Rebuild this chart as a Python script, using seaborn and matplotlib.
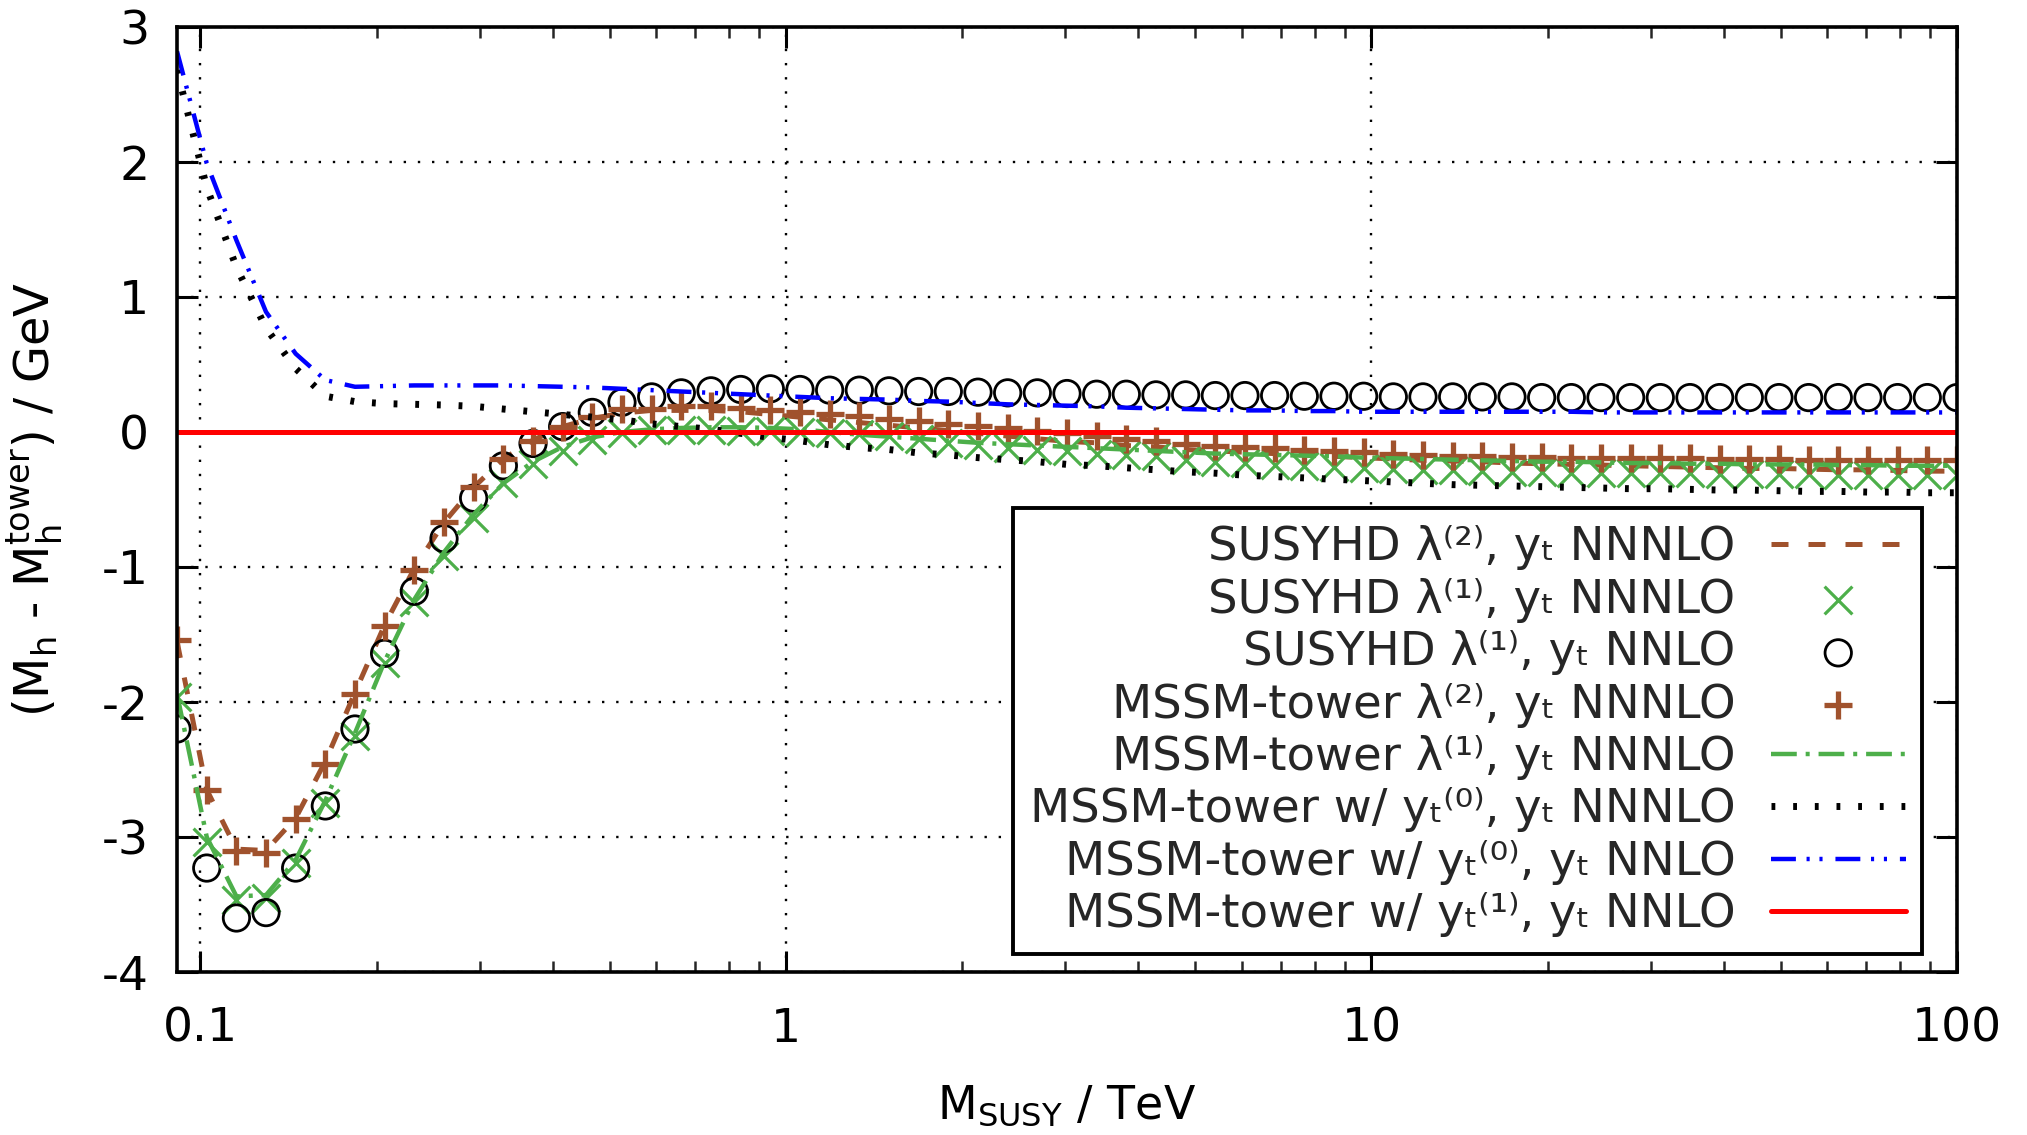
import matplotlib
matplotlib.use("Agg")
import matplotlib.pyplot as plt
import seaborn as sns
from matplotlib import font_manager
from matplotlib.ft2font import FT2Font
from matplotlib.ticker import FixedLocator, NullFormatter

# M_SUSY grid in TeV (from M_Z up to 100 TeV)
m_susy = [
    0.09119, 0.1025, 0.1152, 0.1294, 0.1454, 0.1634, 0.1836, 0.2063, 0.2319, 0.2606,
    0.2928, 0.3291, 0.3698, 0.4155, 0.4669, 0.5247, 0.5897, 0.6626, 0.7446, 0.8368,
    0.9403, 1.0567, 1.1874, 1.3343, 1.4995, 1.6850, 1.8935, 2.1278, 2.3911, 2.6870,
    3.0195, 3.3932, 3.8130, 4.2849, 4.8151, 5.4109, 6.0805, 6.8329, 7.6784, 8.6286,
    9.6963, 10.896, 12.245, 13.760, 15.462, 17.376, 19.526, 21.942, 24.657, 27.709,
    31.137, 34.990, 39.320, 44.186, 49.653, 55.798, 62.702, 70.461, 79.180, 88.978,
    100.0,
]

# SUSYHD lambda^(2), y_t NNNLO
susyhd_l2_nnnlo = [
    -1.55, -2.65, -3.09, -3.10, -2.86, -2.44, -1.93, -1.43, -1.01, -0.67,
    -0.41, -0.20, -0.06, 0.04, 0.10, 0.14, 0.16, 0.16, 0.16, 0.15,
    0.13, 0.11, 0.09, 0.07, 0.05, 0.03, 0.01, -0.01, -0.03, -0.05,
    -0.07, -0.08, -0.10, -0.11, -0.13, -0.14, -0.15, -0.16, -0.17, -0.18,
    -0.19, -0.20, -0.21, -0.215, -0.22, -0.23, -0.235, -0.24, -0.245, -0.25,
    -0.255, -0.26, -0.265, -0.27, -0.27, -0.275, -0.28, -0.28, -0.285, -0.29,
    -0.29,
]

# SUSYHD lambda^(1), y_t NNNLO
susyhd_l1_nnnlo = [
    -1.96, -3.04, -3.47, -3.45, -3.19, -2.75, -2.25, -1.71, -1.26, -0.92,
    -0.64, -0.38, -0.24, -0.14, -0.06, -0.01, 0.015, 0.015, 0.015, 0.01,
    0.005, 0.0, -0.01, -0.015, -0.03, -0.055, -0.08, -0.095, -0.115, -0.13,
    -0.14, -0.16, -0.17, -0.18, -0.205, -0.22, -0.23, -0.245, -0.255, -0.26,
    -0.27, -0.275, -0.28, -0.285, -0.29, -0.295, -0.295, -0.30, -0.30, -0.30,
    -0.305, -0.305, -0.31, -0.31, -0.31, -0.31, -0.315, -0.315, -0.32, -0.32,
    -0.32,
]

# SUSYHD lambda^(1), y_t NNLO
susyhd_l1_nnlo = [
    -2.20, -3.23, -3.60, -3.56, -3.23, -2.77, -2.20, -1.64, -1.18, -0.79,
    -0.49, -0.25, -0.085, 0.04, 0.145, 0.22, 0.26, 0.29, 0.305, 0.315,
    0.32, 0.315, 0.31, 0.31, 0.305, 0.30, 0.30, 0.295, 0.29, 0.29,
    0.285, 0.28, 0.28, 0.275, 0.275, 0.27, 0.27, 0.27, 0.265, 0.265,
    0.265, 0.26, 0.26, 0.26, 0.26, 0.26, 0.255, 0.255, 0.255, 0.255,
    0.255, 0.255, 0.255, 0.255, 0.255, 0.255, 0.255, 0.255, 0.255, 0.255,
    0.255,
]

# MSSM-tower lambda^(2), y_t NNNLO
tower_l2_nnnlo = [
    -1.54, -2.65, -3.10, -3.12, -2.87, -2.46, -1.94, -1.44, -1.02, -0.67,
    -0.41, -0.20, -0.07, 0.04, 0.11, 0.17, 0.17, 0.19, 0.19, 0.175,
    0.16, 0.15, 0.13, 0.115, 0.10, 0.08, 0.06, 0.045, 0.03, 0.01,
    -0.01, -0.03, -0.05, -0.07, -0.09, -0.10, -0.11, -0.12, -0.13, -0.14,
    -0.15, -0.16, -0.17, -0.175, -0.18, -0.185, -0.185, -0.19, -0.19, -0.19,
    -0.195, -0.195, -0.20, -0.20, -0.20, -0.205, -0.205, -0.21, -0.21, -0.21,
    -0.21,
]

# MSSM-tower lambda^(1), y_t NNNLO
tower_l1_nnnlo = [
    -1.94, -3.00, -3.44, -3.43, -3.17, -2.73, -2.23, -1.70, -1.24, -0.89,
    -0.61, -0.38, -0.22, -0.11, -0.04, 0.0, 0.02, 0.03, 0.035, 0.035,
    0.03, 0.02, 0.0, -0.02, -0.035, -0.05, -0.065, -0.08, -0.09, -0.10,
    -0.11, -0.12, -0.13, -0.14, -0.15, -0.16, -0.165, -0.17, -0.175, -0.18,
    -0.19, -0.195, -0.20, -0.205, -0.21, -0.215, -0.22, -0.22, -0.225, -0.23,
    -0.23, -0.235, -0.235, -0.24, -0.24, -0.24, -0.245, -0.245, -0.25, -0.25,
    -0.25,
]

# MSSM-tower w/ y_t^(0), y_t NNNLO
tower_yt0_nnnlo = [
    2.68, 1.81, 1.22, 0.77, 0.47, 0.265, 0.225, 0.21, 0.205, 0.20,
    0.19, 0.17, 0.15, 0.13, 0.11, 0.09, 0.06, 0.04, 0.02, -0.01,
    -0.04, -0.065, -0.095, -0.115, -0.13, -0.155, -0.17, -0.19, -0.205, -0.22,
    -0.24, -0.25, -0.265, -0.28, -0.295, -0.305, -0.32, -0.33, -0.34, -0.35,
    -0.36, -0.37, -0.38, -0.39, -0.395, -0.40, -0.405, -0.41, -0.415, -0.42,
    -0.42, -0.425, -0.43, -0.43, -0.435, -0.44, -0.44, -0.445, -0.445, -0.45,
    -0.45,
]

# MSSM-tower w/ y_t^(0), y_t NNLO
tower_yt0_nnlo = [
    2.82, 1.99, 1.42, 0.89, 0.58, 0.385, 0.335, 0.34, 0.345, 0.345,
    0.345, 0.345, 0.34, 0.335, 0.33, 0.32, 0.31, 0.30, 0.29, 0.28,
    0.27, 0.26, 0.25, 0.245, 0.24, 0.23, 0.225, 0.215, 0.205, 0.20,
    0.195, 0.19, 0.18, 0.175, 0.17, 0.165, 0.16, 0.16, 0.155, 0.155,
    0.15, 0.15, 0.15, 0.15, 0.15, 0.15, 0.15, 0.15, 0.145, 0.145,
    0.145, 0.145, 0.145, 0.145, 0.145, 0.145, 0.145, 0.145, 0.145, 0.145,
    0.145,
]

# MSSM-tower w/ y_t^(1), y_t NNLO (reference curve)
tower_yt1_nnlo = [
    0.0, 0.0, 0.0, 0.0, 0.0, 0.0, 0.0, 0.0, 0.0, 0.0,
    0.0, 0.0, 0.0, 0.0, 0.0, 0.0, 0.0, 0.0, 0.0, 0.0,
    0.0, 0.0, 0.0, 0.0, 0.0, 0.0, 0.0, 0.0, 0.0, 0.0,
    0.0, 0.0, 0.0, 0.0, 0.0, 0.0, 0.0, 0.0, 0.0, 0.0,
    0.0, 0.0, 0.0, 0.0, 0.0, 0.0, 0.0, 0.0, 0.0, 0.0,
    0.0, 0.0, 0.0, 0.0, 0.0, 0.0, 0.0, 0.0, 0.0, 0.0,
    0.0,
]

x_ticks = [0.1, 1, 10, 100]
x_tick_labels = ["0.1", "1", "10", "100"]
y_ticks = [-4, -3, -2, -1, 0, 1, 2, 3]
y_tick_labels = ["-4", "-3", "-2", "-1", "0", "1", "2", "3"]

# legend labels: plain text with Unicode super/subscripts when the font has them
_cmap = FT2Font(font_manager.findfont("DejaVu Sans")).get_charmap()
USE_UNICODE = all(ord(c) in _cmap for c in "ₜ⁽⁾⁰¹²λ")
if USE_UNICODE:
    labels = [
        "SUSYHD λ⁽²⁾, yₜ NNNLO",
        "SUSYHD λ⁽¹⁾, yₜ NNNLO",
        "SUSYHD λ⁽¹⁾, yₜ NNLO",
        "MSSM-tower λ⁽²⁾, yₜ NNNLO",
        "MSSM-tower λ⁽¹⁾, yₜ NNNLO",
        "MSSM-tower w/ yₜ⁽⁰⁾, yₜ NNNLO",
        "MSSM-tower w/ yₜ⁽⁰⁾, yₜ NNLO",
        "MSSM-tower w/ yₜ⁽¹⁾, yₜ NNLO",
    ]
    LEG_SPACING = 0.16
else:
    labels = [
        r"SUSYHD λ$^\mathregular{(2)}$, y$_\mathregular{t}$ NNNLO",
        r"SUSYHD λ$^\mathregular{(1)}$, y$_\mathregular{t}$ NNNLO",
        r"SUSYHD λ$^\mathregular{(1)}$, y$_\mathregular{t}$ NNLO",
        r"MSSM-tower λ$^\mathregular{(2)}$, y$_\mathregular{t}$ NNNLO",
        r"MSSM-tower λ$^\mathregular{(1)}$, y$_\mathregular{t}$ NNNLO",
        r"MSSM-tower w/ y$_\mathregular{t}{}^\mathregular{(0)}$, y$_\mathregular{t}$ NNNLO",
        r"MSSM-tower w/ y$_\mathregular{t}{}^\mathregular{(0)}$, y$_\mathregular{t}$ NNLO",
        r"MSSM-tower w/ y$_\mathregular{t}{}^\mathregular{(1)}$, y$_\mathregular{t}$ NNLO",
    ]
    LEG_SPACING = -0.13

BROWN = "#a0522d"
GREEN = "#4daf4a"

sns.set_theme(style="ticks")
plt.rcParams["font.family"] = ["DejaVu Sans"]
plt.rcParams["mathtext.fontset"] = "dejavusans"
plt.rcParams["axes.unicode_minus"] = False
FS = 33
FS_LEG = 33.5
FS_TICK = 34

fig = plt.figure(figsize=(20.27, 11.35), dpi=100)
ax = fig.add_axes([177 / 2027, 1 - 972 / 1135, 1780 / 2027, 945 / 1135])
ax.set_xscale("log")


def draw_line(y, color, lw, dashes, label, z):
    sns.lineplot(x=m_susy, y=y, ax=ax, color=color, linewidth=lw,
                 label=label, sort=False, estimator=None, legend=False, zorder=z)
    line = ax.lines[-1]
    if dashes is not None:
        line.set_dashes(dashes)
    line.set_dash_capstyle("butt")
    return line


def draw_points(y, marker, label, z, face, edge, lw, size):
    sns.scatterplot(x=m_susy, y=y, ax=ax, marker=marker, s=size, label=label,
                    facecolor=face, edgecolor=edge, color=edge, linewidth=lw,
                    legend=False, zorder=z)
    return ax.collections[-1]


h = []
h.append(draw_line(susyhd_l2_nnnlo, BROWN, 3.6, (3.4, 4.0), labels[0], 3))
h.append(draw_points(susyhd_l1_nnnlo, "x", labels[1], 4, GREEN, GREEN, 2.3, 20 ** 2))
h.append(draw_points(susyhd_l1_nnlo, "o", labels[2], 5, "none", "black", 2.0, 19 ** 2))
h.append(draw_points(tower_l2_nnnlo, "+", labels[3], 6, BROWN, BROWN, 3.8, 20 ** 2))
h.append(draw_line(tower_l1_nnnlo, GREEN, 3.2, (5.8, 2.0, 0.9, 2.0), labels[4], 7))
h.append(draw_line(tower_yt0_nnnlo, "black", 5.0, (0.55, 2.57), labels[5], 8))
h.append(draw_line(tower_yt0_nnlo, "blue", 3.2, (5.6, 2.4, 0.7, 2.2, 0.7, 2.9), labels[6], 9))
h.append(draw_line(tower_yt1_nnlo, "red", 3.6, None, labels[7], 10))

# axes ranges and ticks
ax.set_xlim(0.0911876, 100)
ax.set_ylim(-4, 3)
ax.xaxis.set_major_locator(FixedLocator(x_ticks))
ax.set_xticklabels(x_tick_labels)
minor_x = [m * 10.0 ** e for e in (-1, 0, 1) for m in range(2, 10)]
ax.xaxis.set_minor_locator(FixedLocator(minor_x))
ax.xaxis.set_minor_formatter(NullFormatter())
ax.set_yticks(y_ticks)
ax.set_yticklabels(y_tick_labels)
ax.yaxis.set_minor_locator(FixedLocator([]))
ax.tick_params(which="major", direction="in", length=15, width=2.2,
               top=True, right=True, labelsize=FS_TICK, colors="black")
ax.tick_params(axis="x", which="major", pad=25)
ax.tick_params(axis="y", which="major", pad=20)
ax.tick_params(which="minor", direction="in", length=8, width=1.8,
               top=True, right=True)
for sp in ax.spines.values():
    sp.set_linewidth(2.6)
    sp.set_color("black")
    sp.set_zorder(20)

ax.grid(True, which="major", color="black", linestyle=(0, (1, 5)), linewidth=1.7)
ax.grid(False, which="minor")
ax.set_axisbelow(True)

ax.set_xlabel(r"M$_\mathregular{SUSY}$ / TeV", fontsize=FS, color="black")
ax.xaxis.set_label_coords(0.5, -0.118)
ax.set_ylabel(r"(M$_\mathregular{h}$ - M$_\mathregular{h}^\mathregular{tower}$) / GeV",
              fontsize=34.5, color="black")
ax.yaxis.set_label_coords(-0.063, 0.5)

leg = ax.legend(handles=h, labels=labels, loc="lower right",
                bbox_to_anchor=(0.9806, 0.019), borderaxespad=0,
                fontsize=FS_LEG, markerfirst=False, frameon=True, fancybox=False,
                framealpha=1, edgecolor="black", handlelength=2.9,
                handletextpad=0.76, borderpad=0.36, labelspacing=LEG_SPACING,
                scatterpoints=1)
leg.get_frame().set_linewidth(2.8)
leg.set_zorder(30)

fig.savefig("out.png", dpi=100)
